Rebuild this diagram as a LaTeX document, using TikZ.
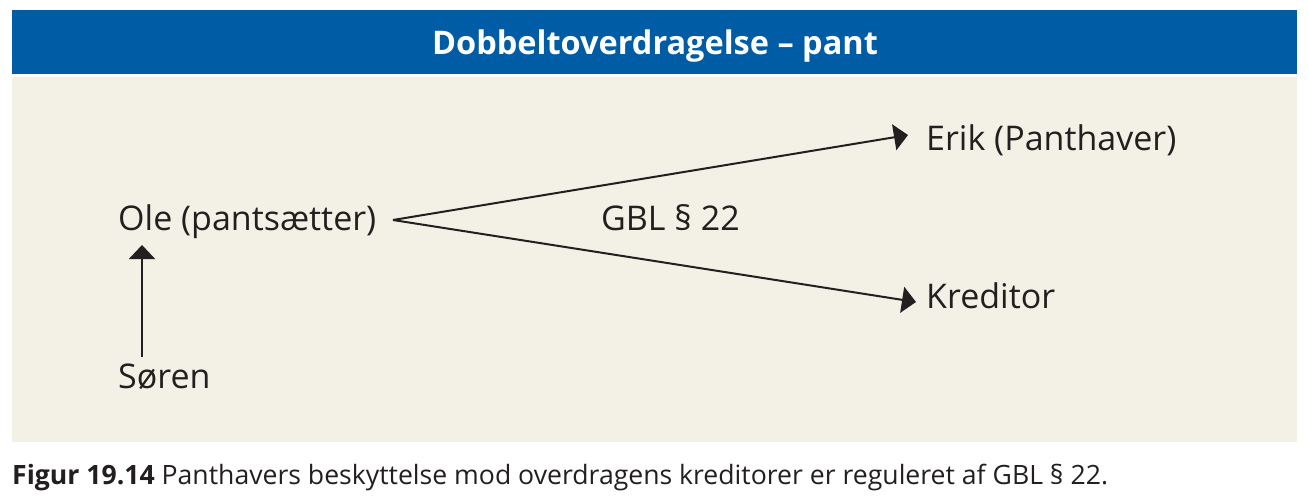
\documentclass[tikz,border=0pt]{standalone}
\usepackage{fontspec}
\setmainfont{Open Sans}
\usetikzlibrary{arrows.meta}
\definecolor{hdrblue}{HTML}{005CA5}
\definecolor{panel}{HTML}{F3F1E5}
\definecolor{ink}{HTML}{231F20}
\tikzset{
  lbl/.style={anchor=base west, inner sep=0pt, text=ink, font=\fontsize{34}{41}\selectfont},
  conn/.style={draw=ink, line width=2pt, -{Triangle[length=14pt,width=26pt]}},
}
\begin{document}
\begin{tikzpicture}[x=1pt,y=-1pt]
\useasboundingbox (0,0) rectangle (1309,498);
\fill[white] (0,0) rectangle (1309,498);
\fill[hdrblue] (12,10) rectangle (1297,74);
\fill[panel] (12,77) rectangle (1297,442);
\node[anchor=base, inner sep=0pt, text=white, font=\fontsize{32.5}{38}\selectfont\bfseries] (title) at (655,54) {Dobbeltoverdragelse – pant};
\node[lbl] (ole) at (118,230) {Ole (pantsætter)};
\node[lbl] (erik) at (926,150) {Erik (Panthaver)};
\node[lbl] (kred) at (926,308) {Kreditor};
\node[lbl] (gbl) at (601,230) {GBL § 22};
\node[lbl] (soren) at (118,388) {Søren};
\coordinate (olep) at (393,220);
\coordinate (erikin) at (908,135);
\coordinate (kredin) at (916,302);
\coordinate (sorenout) at (142,357);
\coordinate (olein) at (142,245);
\draw[conn] (olep) -- (erikin);
\draw[conn] (olep) -- (kredin);
\draw[conn] (sorenout) -- (olein);
\node[anchor=base west, inner sep=0pt, text=ink, font=\fontsize{26.6}{32}\selectfont] (cap) at (12,484) {\textbf{Figur 19.14} Panthavers beskyttelse mod overdragens kreditorer er reguleret af GBL § 22.};
\end{tikzpicture}
\end{document}
